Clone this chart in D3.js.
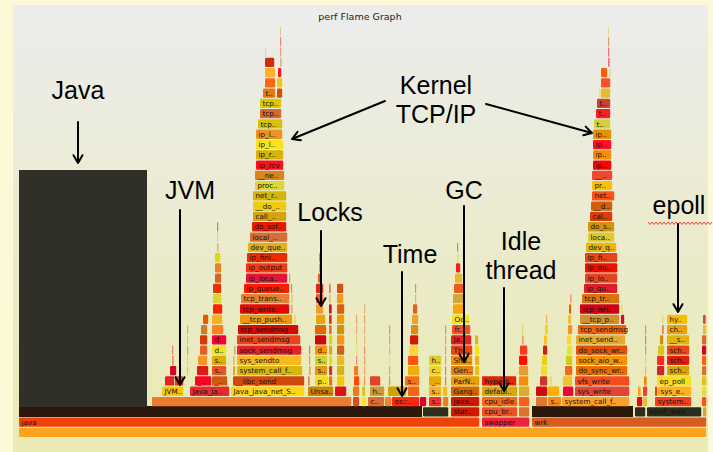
<!DOCTYPE html>
<html>
<head>
<meta charset="utf-8">
<script src="https://cdn.jsdelivr.net/npm/d3@7"></script>
<style>
  html, body { margin: 0; padding: 0; background: #fdf8d6; }
  svg { display: block; }
</style>
</head>
<body>
<svg id="chart" width="713" height="452"></svg>
<script>
// frames: [depth, start sample, samples, function]
const totalSamples = 688;
const maxDepth = 40;

const baseFrames = [
  [0, 0, 688, "all"],
  [1, 0, 461, "java"], [1, 463, 48, "swapper"], [1, 513, 175, "wrk"],
  [2, 0, 403, "[unknown]"], [2, 404, 26, "..."], [2, 432, 29, "start_thread"],
  [2, 463, 36, "cpu_bringup_and_idle"], [2, 500, 11, "start_secondary"],
  [2, 513, 101, "[unknown]"], [2, 616, 11, "epoll_wait"], [2, 628, 55, "epoll_wait"], [2, 684, 4, "write"]
];

const interpFrames = [
  [3, 0, 128, "Interpreter"], [4, 0, 128, "Interpreter"], [5, 0, 128, "Interpreter"],
  [6, 0, 128, "Interpreter"], [7, 0, 128, "Interpreter"], [8, 0, 128, "Interpreter"],
  [9, 0, 128, "Interpreter"], [10, 0, 128, "Interpreter"], [11, 0, 128, "Interpreter"],
  [12, 0, 128, "Interpreter"], [13, 0, 128, "Interpreter"], [14, 0, 128, "Interpreter"],
  [15, 0, 128, "Interpreter"], [16, 0, 128, "Interpreter"], [17, 0, 128, "Interpreter"],
  [18, 0, 128, "Interpreter"], [19, 0, 128, "Interpreter"], [20, 0, 128, "Interpreter"],
  [21, 0, 128, "Interpreter"], [22, 0, 128, "Interpreter"], [23, 0, 128, "Interpreter"],
  [24, 0, 128, "Interpreter"], [25, 0, 128, "Interpreter"]
];

const jvmFrames = [
  [3, 133, 200, ""],
  [4, 143, 22, "JVM_Yield"], [5, 146, 10, "os::naked_yield"], [5, 156, 9, "sched_yield"],
  [6, 151, 7, "system_call_fastpath"], [7, 153, 2, "sys_sched_yield"], [8, 153, 1.5, "schedule"],
  [4, 171, 40, "Java_java_io_FileOutputStream_writeBytes"],
  [5, 176, 17, "_IO_do_write"], [5, 193, 16, "__write_nocancel"],
  [6, 178, 12, "fdval"], [6, 193, 15, "system_call_fastpath"],
  [7, 179, 10, "handleWrite"], [7, 193, 15, "sys_write"],
  [8, 181, 8, "writev"], [8, 193, 15, "do_sync_write"],
  [9, 181, 8, "sys_writev"], [9, 193, 15, "do_sock_write"],
  [10, 182, 7, "do_readv_writev"], [10, 193, 12, "inet_sendmsg"],
  [11, 184, 6, "sock_aio_write"], [11, 193, 11, "tcp_sendmsg"],
  [12, 194, 10, "tcp_push"], [13, 194, 9, "tcp_write_xmit"], [14, 194, 9, "tcp_transmit_skb"],
  [15, 196, 7, "ip_queue_xmit"], [16, 196, 7, "ip_output"], [17, 196, 6, "dev_queue_xmit"],
  [18, 198, 2, "local_bh_enable"], [19, 198, 1.5, "do_softirq"], [20, 198, 1.5, "net_rx_action"],
  [6, 168, 1.5, "os::sleep"], [7, 168, 1.5, "os::javaTimeNanos"], [8, 168, 1.5, "clock_gettime"],
  [9, 168, 1.5, "__vdso_clock_gettime"], [10, 168, 1.5, "read_tsc"]
];

const sendFrames = [
  [4, 212, 74, "Java_java_net_SocketOutputStream_socketWrite0"],
  [5, 214, 72, "__libc_send"],
  [6, 218, 66, "system_call_fastpath"],
  [7, 218, 65, "sys_sendto"],
  [8, 218, 65, "sock_sendmsg"],
  [9, 218, 64, "inet_sendmsg"],
  [10, 219, 61, "tcp_sendmsg"],
  [11, 221, 53, "__tcp_push_pending_frames"],
  [12, 221, 50, "tcp_write_xmit"],
  [13, 222, 49, "tcp_transmit_skb"],
  [14, 225, 46, "ip_queue_xmit"],
  [15, 227, 42, "ip_local_out"],
  [16, 227, 42, "ip_output"],
  [17, 228, 41, "ip_finish_output"],
  [18, 229, 40, "dev_queue_xmit"],
  [19, 231, 38, "local_bh_enable"],
  [20, 233, 35, "do_softirq"],
  [21, 234, 34, "call_softirq"],
  [22, 234, 34, "__do_softirq"],
  [23, 234, 34, "net_rx_action"],
  [24, 236, 30, "process_backlog"],
  [25, 236, 30, "__netif_receive_skb"],
  [26, 237, 28, "ip_rcv"],
  [27, 237, 28, "ip_rcv_finish"],
  [28, 237, 28, "ip_local_deliver"],
  [29, 237, 27, "ip_local_deliver_finish"],
  [30, 239, 25, "tcp_v4_rcv"],
  [31, 241, 22, "tcp_v4_do_rcv"],
  [32, 241, 22, "tcp_rcv_established"],
  [33, 244, 13, "tcp_data_queue"], [33, 258, 6, "tcp_ack"],
  [34, 246, 11, "sock_def_readable"], [34, 258, 6, "tcp_clean_rtx_queue"],
  [35, 246, 11, "__wake_up_sync_key"], [35, 259, 4, "kfree_skb"],
  [36, 246, 10, "__wake_up_common"], [36, 261, 2, "skb_release_all"],
  [37, 246, 1.5, "ep_poll_callback"], [37, 261, 1.5, "skb_release_data"],
  [38, 261, 1.5, "kfree"], [39, 261, 1, "__slab_free"],
  [6, 214, 3, "fput"], [7, 214, 2, "sockfd_lookup_light"], [8, 215, 2, "security_socket_sendmsg"],
  [11, 275, 2, "tcp_push"], [12, 272, 2, "tcp_nagle_check"], [13, 272, 2, "tcp_set_skb_tso_segs"],
  [14, 272, 1.5, "skb_clone"], [15, 270, 1.5, "ip_options_build"]
];

const lockFrames = [
  [4, 289, 26, "Unsafe_Park"],
  [5, 289, 2, "Parker::park"], [5, 296, 14, "pthread_cond_wait"], [5, 310, 4, "pthread_mutex_unlock"],
  [6, 290, 2, "ThreadBlockInVM"], [6, 296, 13, "system_call_fastpath"], [6, 310, 4, "__lll_unlock_wake"],
  [7, 290, 1.5, "os::javaTimeNanos"], [7, 296, 13, "sys_futex"], [7, 310, 4, "system_call_fastpath"],
  [8, 290, 1.5, "clock_gettime"], [8, 296, 13, "do_futex"], [8, 310, 4, "sys_futex"],
  [9, 296, 12, "futex_wait"], [9, 310, 4, "do_futex"],
  [10, 296, 12, "futex_wait_queue_me"], [10, 310, 3, "futex_wake"],
  [11, 297, 10, "schedule"], [11, 310, 3, "wake_up_state"],
  [12, 297, 8, "__schedule"], [12, 310, 3, "try_to_wake_up"],
  [13, 297, 8, "finish_task_switch"], [13, 310, 2, "ttwu_do_activate"],
  [14, 297, 8, "perf_event_task_sched_in"], [14, 310, 2, "activate_task"],
  [15, 299, 3, "perf_pmu_enable"], [16, 300, 2, "x86_pmu_enable"], [17, 300, 1.5, "native_write_msr"],
  [4, 316, 12, "ObjectMonitor::enter"],
  [5, 318, 8, "ObjectMonitor::EnterI"], [6, 318, 8, "os::PlatformEvent::park"],
  [7, 318, 8, "pthread_cond_wait"], [8, 318, 8, "system_call_fastpath"], [9, 318, 8, "sys_futex"],
  [10, 318, 8, "do_futex"], [11, 318, 8, "futex_wait"], [12, 318, 8, "futex_wait_queue_me"],
  [13, 318, 7, "schedule"], [14, 318, 7, "__schedule"],
  [3, 334, 7, "Runtime1::monitorenter"], [4, 334, 7, "ObjectSynchronizer::fast_enter"],
  [5, 335, 6, "BiasedLocking::revoke"], [6, 335, 5, "VMThread::execute"],
  [7, 337, 1.5, "Monitor::wait"], [8, 337, 1.5, "Monitor::IWait"], [9, 337, 1.5, "os::PlatformEvent::park"],
  [10, 337, 1.5, "pthread_cond_timedwait"], [11, 337, 1.5, "sys_futex"],
  [3, 343, 5, "SafepointSynchronize::block"], [4, 343, 4, "Monitor::lock"],
  [5, 345, 1.5, "Monitor::ILock"], [6, 345, 1.5, "os::PlatformEvent::park"], [7, 345, 1.5, "pthread_cond_wait"],
  [8, 345, 1.5, "system_call_fastpath"], [9, 345, 1.5, "sys_futex"], [10, 345, 1.5, "do_futex"],
  [11, 345, 1.5, "futex_wait"], [12, 345, 1.5, "schedule"]
];

const timeFrames = [
  [3, 349, 17, "check_events"], [4, 351, 15, "hypercall_page"], [5, 351, 11, "xen_hypercall"],
  [3, 366, 7, "os::elapsed_counter"], [3, 373, 28, "os::javaTimeMillis"], [3, 401, 7, "gettimeofday"],
  [4, 369, 19, ""], [4, 389, 12, ""],
  [5, 370, 1.5, "read_tsc"], [6, 370, 1.5, "pvclock"], [7, 370, 1.5, "native_read_tsc"],
  [8, 370, 1.5, "rdtsc"], [9, 370, 1.5, "xen_clock"], [10, 370, 1.5, "tsc"],
  [5, 386, 15, "sys_gettimeofday"], [6, 389, 12, "do_gettimeofday"], [7, 389, 11, "getnstimeofday"],
  [8, 390, 10, "xen_clocksource_read"], [9, 391, 9, "pvclock_clocksource_read"],
  [10, 392, 8, "native_read_tsc"], [11, 393, 7, "pvclock_get_time"], [12, 394, 5, "xen_read_tsc"],
  [13, 396, 1.5, "rdtscll"], [14, 396, 1.5, "tsc_read"],
  [3, 410, 13, "syscall"], [4, 410, 13, "sys_futex"], [5, 410, 13, "__schedule"],
  [6, 410, 13, "context_switch"], [7, 410, 13, "hypercall_page"],
  [3, 424, 6, "pthread_cond_timedwait"], [4, 424, 5, "system_call_fastpath"],
  [5, 426, 1.5, "sys_futex"], [6, 426, 1.5, "do_futex"], [7, 426, 1.5, "futex_wait"],
  [8, 426, 1.5, "schedule"], [9, 426, 1.5, "__schedule"], [10, 426, 1.5, "xen_hypercall"]
];

const gcFrames = [
  [3, 432, 29, "java_start"],
  [4, 432, 29, "GangWorker::loop"],
  [5, 432, 29, "ParNewGenTask::work"],
  [6, 432, 23, "GenCollectedHeap::gen_process_strong_roots"], [6, 456, 5, "ParNewGeneration::steal"],
  [7, 432, 22, "SharedHeap::process_strong_roots"], [7, 456, 5, "GenericTaskQueue::pop"],
  [8, 432, 22, "Threads::possibly_parallel_oops_do"], [8, 456, 5, "ParallelTaskTerminator"],
  [9, 432, 21, "JavaThread::oops_do"], [9, 456, 4, "SpinPause"],
  [10, 433, 19, "frame::oops_do_internal"],
  [11, 433, 18, "OopMapSet::all_do"],
  [12, 434, 12, "ParScanClosure::do_oop_nv"],
  [13, 434, 12, "ParScanThreadState::copy"],
  [14, 435, 11, "ParScanThreadState::alloc"],
  [15, 436, 8, "ParGCAllocBuffer::allocate"],
  [16, 437, 5, "Copy::aligned_disjoint"],
  [17, 438, 2, "memcpy"], [18, 438, 1.5, "page_fault"]
];

const idleFrames = [
  [3, 463, 36, "cpu_idle"], [3, 500, 11, "rest_init"],
  [4, 463, 36, "default_idle"], [4, 500, 11, "cpu_startup_entry"],
  [5, 463, 35, "hypercall_page"], [5, 500, 10, "arch_cpu_idle"],
  [6, 500, 10, "xen_safe_halt"], [7, 500, 9, "irq_exit"], [8, 501, 8, "__do_softirq"],
  [9, 503, 2, "run_timer_softirq"], [10, 503, 1.5, "call_timer_fn"]
];

const wrkFrames = [
  [3, 517, 12, "aeProcessEvents"], [4, 517, 12, "sock_write"], [5, 521, 8, "__write_nocancel"],
  [6, 522, 7, "system_call_fastpath"], [7, 523, 6, "sys_write"], [8, 524, 5, "vfs_write"],
  [9, 525, 4, "do_sync_write"], [10, 526, 3, "sock_aio_write"], [11, 527, 1.5, "inet_sendmsg"],
  [3, 529, 14, "socket_writeable"], [4, 529, 12, "response_complete"], [5, 531, 2, "http_parser_execute"],
  [3, 543, 68, "system_call_fastpath"],
  [4, 544, 11, "sys_read"], [4, 556, 55, "sys_write"],
  [5, 544, 10, "vfs_read"], [5, 556, 55, "vfs_write"],
  [6, 546, 8, "do_sync_read"], [6, 557, 52, "do_sync_write"],
  [7, 547, 7, "sock_aio_read"], [7, 557, 52, "sock_aio_write"],
  [8, 548, 6, "do_sock_read"], [8, 557, 52, "do_sock_write"],
  [9, 548, 5, "inet_recvmsg"], [9, 557, 50, "inet_sendmsg"],
  [10, 549, 5, "tcp_recvmsg"], [10, 559, 49, "tcp_sendmsg"],
  [11, 549, 4, "tcp_cleanup_rbuf"], [11, 561, 40, "__tcp_push_pending_frames"], [11, 602, 4, "sk_stream_alloc_skb"],
  [12, 550, 3, "tcp_send_ack"], [12, 561, 40, "tcp_write_xmit"], [12, 602, 2, "__alloc_skb"],
  [13, 551, 2, "__tcp_send_ack"], [13, 563, 38, "tcp_transmit_skb"],
  [14, 565, 34, "ip_queue_xmit"],
  [15, 566, 33, "ip_local_out"],
  [16, 566, 33, "ip_output"],
  [17, 566, 33, "ip_finish_output"],
  [18, 567, 31, "dev_queue_xmit"],
  [19, 569, 27, "local_bh_enable"],
  [20, 569, 27, "do_softirq"],
  [21, 571, 23, "call_softirq"],
  [22, 572, 22, "__do_softirq"],
  [23, 573, 23, "net_rx_action"],
  [24, 573, 21, "process_backlog"],
  [25, 573, 21, "__netif_receive_skb"],
  [26, 574, 19, "ip_rcv"],
  [27, 574, 19, "ip_rcv_finish"],
  [28, 574, 19, "ip_local_deliver"],
  [29, 574, 19, "ip_local_deliver_finish"],
  [30, 575, 17, "tcp_v4_rcv"],
  [31, 577, 15, "tcp_v4_do_rcv"],
  [32, 578, 14, "tcp_rcv_established"],
  [33, 580, 2, "tcp_ack"], [33, 582, 10, "tcp_data_queue"],
  [34, 582, 10, "sock_def_readable"],
  [35, 582, 7, "__wake_up_sync_key"], [35, 590, 2, "tcp_event_data_recv"],
  [36, 589, 2, "__wake_up_common"], [37, 589, 1.5, "ep_poll_callback"],
  [38, 589, 1.5, "_raw_spin_unlock"], [39, 589, 1, "xen_hypercall"],
  [3, 618, 6, "sys_epoll_ctl"], [3, 624, 5, "clock_gettime"],
  [4, 619, 3, "ep_modify"], [4, 624, 5, "__vdso_clock_gettime"],
  [5, 625, 3, "read_tsc"], [6, 626, 1.5, "pvclock"], [7, 626, 1.5, "rdtsc"],
  [8, 626, 1.5, "xen"], [9, 626, 1.5, "tsc"], [10, 626, 1.5, "native"]
];

const epollFrames = [
  [3, 636, 37, "system_call_fastpath"],
  [4, 636, 3, "fget"], [4, 639, 34, "sys_epoll_wait"],
  [5, 638, 35, "ep_poll"],
  [6, 638, 8, "ep_send_events"], [6, 648, 23, "schedule_hrtimeout_range"],
  [7, 638, 8, "ep_scan_ready_list"], [7, 648, 23, "schedule_hrtimeout_range_clock"],
  [8, 639, 7, "ep_send_events_proc"], [8, 648, 23, "schedule"],
  [9, 641, 4, "ep_item_poll"], [9, 648, 23, "__schedule"],
  [10, 643, 2, "sock_poll"], [10, 648, 21, "check_events"],
  [11, 643, 2, "tcp_poll"], [11, 648, 21, "hypercall_page"],
  [3, 683, 5, "write"], [4, 683, 5, "system_call"], [5, 683, 5, "sys_write"],
  [6, 683, 5, "vfs_write"], [7, 683, 5, "do_sync_write"], [8, 683, 5, "sock_aio_write"],
  [9, 683, 5, "inet_sendmsg"], [10, 684, 4, "tcp_sendmsg"], [11, 684, 3, "tcp_push"]
];

// colours that are fixed by name, everything else gets the "hot" palette
const fixedColor = {
  "all": "rgb(250,164,32)",
  "java": "rgb(240,66,6)",
  "swapper": "rgb(234,36,62)",
  "wrk": "rgb(214,92,34)",
  "[unknown]": "rgb(44,24,10)",
  "Interpreter": "rgb(48,48,40)",
  "...": "rgb(44,46,30)",
  "epoll_wait": "rgb(42,44,28)"
};
const solidNames = new Set(["[unknown]", "Interpreter"]);
const unlabeled = new Set(["[unknown]", "Interpreter", "", "all"]);

const svg = d3.select("#chart");

// panel with the flame graph background gradient
const defs = svg.append("defs");
const grad = defs.append("linearGradient")
  .attr("id", "bg").attr("x1", 0).attr("y1", 0).attr("x2", 0).attr("y2", 1);
grad.append("stop").attr("offset", "5%").attr("stop-color", "#ececea");
grad.append("stop").attr("offset", "95%").attr("stop-color", "#eaeab4");

svg.append("rect")
  .attr("x", 13).attr("y", 5).attr("width", 695).attr("height", 452)
  .attr("fill", "url(#bg)");

svg.append("text")
  .attr("x", 360).attr("y", 20)
  .attr("text-anchor", "middle")
  .attr("font-family", "DejaVu Sans, Verdana, sans-serif")
  .attr("font-size", 9.5)
  .attr("fill", "#222")
  .text("perf Flame Graph");

const x = d3.scaleLinear().domain([0, totalSamples]).range([19, 707]);
const y = d3.scaleLinear().domain([0, maxDepth]).range([437.5, 437.5 - maxDepth * 10.28]);

function hashStr(s) {
  let h = 2166136261;
  for (let i = 0; i < s.length; i++) {
    h ^= s.charCodeAt(i);
    h = Math.imul(h, 16777619);
  }
  return h >>> 0;
}

function frameColor(f) {
  if (f.name === "" && f.n > 100) return "rgb(238,122,50)";
  if (fixedColor[f.name] !== undefined) return fixedColor[f.name];
  const h = hashStr(f.name + "|" + f.depth + "|" + f.start);
  const h2 = hashStr("k" + h);
  const v1 = (h & 1023) / 1023, v2 = ((h >>> 10) & 1023) / 1023, v3 = (h2 & 1023) / 1023;
  const r = Math.round(205 + 50 * v3);
  const g = Math.round(230 * v1);
  const b = Math.round(55 * v2);
  return "rgb(" + r + "," + g + "," + b + ")";
}

const frames = [].concat(baseFrames, interpFrames, jvmFrames, sendFrames, lockFrames,
  timeFrames, gcFrames, idleFrames, wrkFrames, epollFrames)
  .map(d => ({ depth: d[0], start: d[1], n: d[2], name: d[3] }));

const rowH = y(0) - y(1);
const charW = 4.3;

const g = svg.append("g").attr("class", "frames");

const cells = g.selectAll("g.frame")
  .data(frames)
  .enter()
  .append("g")
  .attr("class", "frame");

// solid (symbol-less) frames are drawn without gaps so they merge into one block
cells.append("rect")
  .attr("x", d => x(d.start))
  .attr("y", d => solidNames.has(d.name) ? y(d.depth + 1) - 0.4 : y(d.depth + 1) + 0.5)
  .attr("width", d => {
    const w = x(d.start + d.n) - x(d.start);
    if (solidNames.has(d.name)) return w;
    return w > 3 ? w - 0.8 : Math.max(0.8, w - 0.3);
  })
  .attr("height", d => solidNames.has(d.name) ? rowH + 0.8 : rowH - 1)
  .attr("rx", d => solidNames.has(d.name) ? 0 : 1.2)
  .attr("fill", d => frameColor(d))
  .attr("shape-rendering", d => solidNames.has(d.name) ? "crispEdges" : null)
  .attr("opacity", d => (x(d.start + d.n) - x(d.start)) < 2.5 ? 0.55 : 1);

cells.append("text")
  .attr("x", d => x(d.start) + 2.5)
  .attr("y", d => y(d.depth) - 2.6)
  .attr("font-family", "DejaVu Sans, Verdana, sans-serif")
  .attr("font-size", 7.2)
  .attr("fill", "#111")
  .text(d => {
    const w = x(d.start + d.n) - x(d.start);
    const chars = Math.floor(w / charW);
    if (chars < 3 || unlabeled.has(d.name)) return "";
    if (d.name.length <= chars) return d.name;
    return d.name.slice(0, chars - 2) + "..";
  });

// annotations
const notes = svg.append("g").attr("class", "notes")
  .attr("font-family", "Liberation Sans, Arial, Helvetica, sans-serif")
  .attr("font-size", 25)
  .attr("fill", "#000");

const labels = [
  { lines: ["Java"], cx: 78, y0: 99 },
  { lines: ["Kernel", "TCP/IP"], cx: 436, y0: 94 },
  { lines: ["JVM"], cx: 190, y0: 199 },
  { lines: ["Locks"], cx: 330, y0: 221 },
  { lines: ["Time"], cx: 410, y0: 263 },
  { lines: ["GC"], cx: 464, y0: 199 },
  { lines: ["Idle", "thread"], cx: 521, y0: 250 },
  { lines: ["epoll"], cx: 679, y0: 214 }
];

labels.forEach(l => {
  l.lines.forEach((t, i) => {
    notes.append("text")
      .attr("x", l.cx).attr("y", l.y0 + i * 29)
      .attr("text-anchor", "middle")
      .text(t);
  });
});

// red spell-check squiggle under "epoll"
let sq = "M 648 222";
for (let xx = 648, k = 0; xx < 711; xx += 2, k++) sq += " L " + (xx + 2) + " " + (k % 2 ? 222 : 224.5);
svg.append("path").attr("d", sq).attr("fill", "none").attr("stroke", "#e8403a").attr("stroke-width", 1);

const arrows = [
  [78, 122, 78, 163],
  [385, 101, 292, 139],
  [486, 104, 592, 133],
  [180, 210, 180, 385],
  [321, 231, 321, 306],
  [402, 272, 402, 396],
  [464, 206, 464, 362],
  [504, 288, 504, 391],
  [678, 224, 678, 312]
];

arrows.forEach(a => {
  const [x1, y1, x2, y2] = a;
  const ang = Math.atan2(y2 - y1, x2 - x1);
  const len = 9, spread = Math.PI / 6;
  const hx1 = x2 - len * Math.cos(ang - spread), hy1 = y2 - len * Math.sin(ang - spread);
  const hx2 = x2 - len * Math.cos(ang + spread), hy2 = y2 - len * Math.sin(ang + spread);
  svg.append("path")
    .attr("d", `M${x1},${y1} L${x2},${y2} M${hx1},${hy1} L${x2},${y2} L${hx2},${hy2}`)
    .attr("fill", "none")
    .attr("stroke", "#000")
    .attr("stroke-width", 2)
    .attr("stroke-linecap", "round")
    .attr("stroke-linejoin", "round");
});
</script>
</body>
</html>
